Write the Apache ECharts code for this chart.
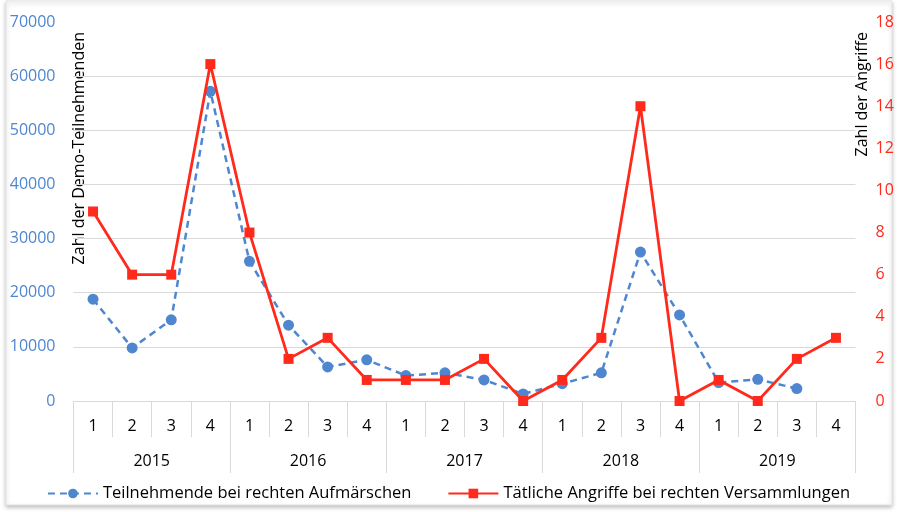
<!DOCTYPE html>
<html>
<head>
<meta charset="utf-8">
<script src="https://cdn.jsdelivr.net/npm/echarts@6/dist/echarts.min.js"></script>
<style>html,body{margin:0;padding:0;background:#fff}#c{width:897px;height:512px}</style>
</head>
<body>
<div id="c"></div>
<script>
const quarters = ['1','2','3','4','1','2','3','4','1','2','3','4','1','2','3','4','1','2','3','4'];
const years = ['2015','2016','2017','2018','2019'];
const teilnehmende = [18800, 9800, 15000, 57200, 25800, 14000, 6300, 7600, 4700, 5200, 3900, 1300, 3200, 5200, 27500, 15900, 3400, 4000, 2300, null];
const angriffe = [9, 6, 6, 16, 8, 2, 3, 1, 1, 1, 2, 0, 1, 3, 14, 0, 1, 0, 2, 3];
const leftTicks = {min: 0, max: 70000, interval: 10000};
const rightTicks = {min: 0, max: 18, interval: 2};

const BLUE = '#4F86D0';
const RED = '#FF2A1C';
const GRID = '#d9d9d9';
const FONT = 'Open Sans';

const chart = echarts.init(document.getElementById('c'), null, {renderer: 'canvas'});
chart.setOption({
  animation: false,
  textStyle: {fontFamily: FONT},
  grid: {left: 73.5, right: 41.5, top: 22, bottom: 111, containLabel: false},
  legend: {
    bottom: 5, left: 'center',
    itemWidth: 50, itemHeight: 12, itemGap: 36,
    textStyle: {fontFamily: FONT, fontSize: 16.5, color: '#000'},
    data: ['Teilnehmende bei rechten Aufmärschen', 'Tätliche Angriffe bei rechten Versammlungen']
  },
  xAxis: [
    {
      type: 'category', data: quarters, position: 'bottom',
      axisLine: {show: true, lineStyle: {color: GRID, width: 1}},
      axisTick: {show: true, interval: 0, length: 36, lineStyle: {color: GRID, width: 1}},
      axisLabel: {interval: 0, margin: 17, color: '#000', fontSize: 16, fontFamily: FONT}
    },
    {
      type: 'category', data: years, position: 'bottom',
      axisLine: {show: false},
      axisTick: {show: true, interval: 0, length: 72, lineStyle: {color: GRID, width: 1}},
      axisLabel: {interval: 0, margin: 52, color: '#000', fontSize: 16, fontFamily: FONT}
    }
  ],
  yAxis: [
    {
      type: 'value', min: leftTicks.min, max: leftTicks.max, interval: leftTicks.interval,
      axisLine: {show: false}, axisTick: {show: false},
      axisLabel: {color: BLUE, fontSize: 16, margin: 18, fontFamily: FONT, formatter: v => String(v)},
      splitLine: {show: true, lineStyle: {color: [GRID, GRID, GRID, GRID, GRID, GRID, GRID, 'rgba(0,0,0,0)'], width: 1}}
    },
    {
      type: 'value', min: rightTicks.min, max: rightTicks.max, interval: rightTicks.interval,
      axisLine: {show: false}, axisTick: {show: false},
      axisLabel: {color: RED, fontSize: 16, margin: 20, fontFamily: FONT},
      splitLine: {show: false}
    }
  ],
  series: [
    {
      name: 'Teilnehmende bei rechten Aufmärschen', type: 'line',
      xAxisIndex: 0, yAxisIndex: 0, data: teilnehmende,
      symbol: 'circle', symbolSize: 11,
      lineStyle: {color: BLUE, width: 2.5, type: [7, 5]},
      itemStyle: {color: BLUE}, z: 2
    },
    {
      name: 'Tätliche Angriffe bei rechten Versammlungen', type: 'line',
      xAxisIndex: 0, yAxisIndex: 1, data: angriffe,
      symbol: 'rect', symbolSize: 10,
      lineStyle: {color: RED, width: 2.8},
      itemStyle: {color: RED}, z: 3
    }
  ],
  graphic: [
    {
      type: 'rect', silent: true, z: -10,
      shape: {x: 6, y: 1, width: 886, height: 504},
      style: {fill: '#fff', stroke: '#e4e4e4', lineWidth: 1, shadowBlur: 4, shadowColor: 'rgba(0,0,0,0.25)', shadowOffsetY: 2}
    },
    {
      type: 'text', x: 79, y: 32, rotation: Math.PI / 2,
      style: {text: 'Zahl der Demo-Teilnehmenden', fill: '#000', font: '16px "Open Sans"', align: 'right', verticalAlign: 'middle'}
    },
    {
      type: 'text', x: 862, y: 32, rotation: Math.PI / 2,
      style: {text: 'Zahl der Angriffe', fill: '#000', font: '16px "Open Sans"', align: 'right', verticalAlign: 'middle'}
    }
  ]
});
</script>
</body>
</html>
